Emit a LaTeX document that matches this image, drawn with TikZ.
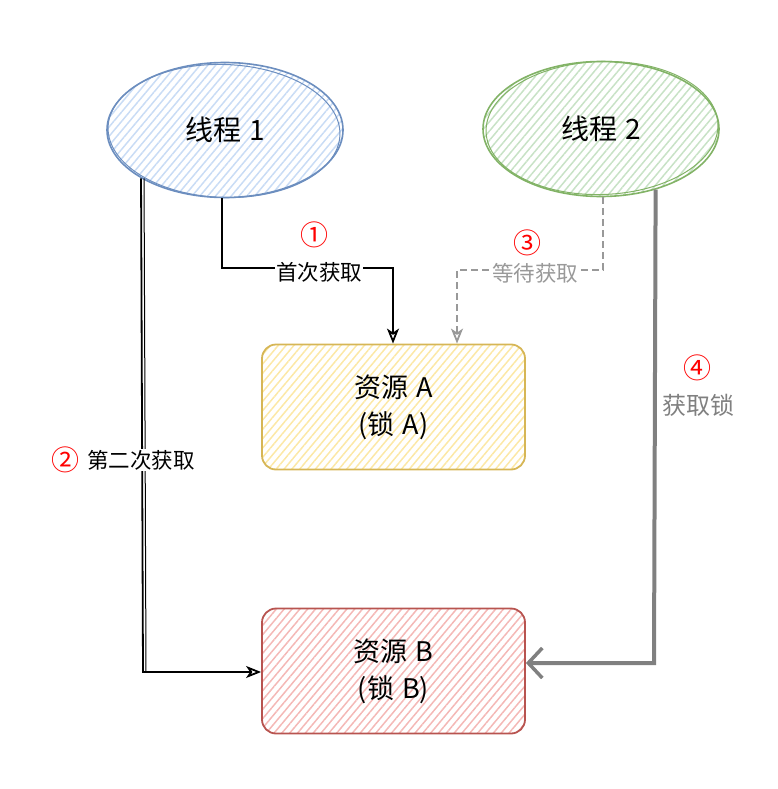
\documentclass[tikz,border=0pt]{standalone}
\usepackage{fontspec}
\setmainfont{Noto Sans CJK SC}
\usetikzlibrary{shapes.geometric,arrows.meta,patterns.meta}
\definecolor{bluestroke}{HTML}{6C8EBF}
\definecolor{bluehatch}{HTML}{C9DCF5}
\definecolor{greenstroke}{HTML}{82B366}
\definecolor{greenhatch}{HTML}{C8E2C6}
\definecolor{yellowstroke}{HTML}{D6B656}
\definecolor{yellowhatch}{HTML}{FCE8A6}
\definecolor{redstroke}{HTML}{B85450}
\definecolor{redhatch}{HTML}{F4B8B6}
\definecolor{numred}{HTML}{FF0000}
\definecolor{lightgray}{HTML}{999999}
\definecolor{midgray}{HTML}{808080}
\tikzset{
  hatch/.style={pattern={Lines[angle=50,distance=6pt,line width=1.5pt]},pattern color=#1},
  thread/.style={ellipse,minimum width=236pt,minimum height=135pt,inner sep=0pt,line width=1.6pt,font=\fontsize{28}{32}\selectfont},
  rough/.style={ellipse,minimum width=#1,minimum height=133pt,inner sep=0pt,line width=1pt},
  res/.style={rectangle,rounded corners=14pt,minimum width=263pt,minimum height=125pt,inner sep=0pt,line width=1.8pt,align=center,font=\fontsize{27}{37}\selectfont},
  elabel/.style={fill=white,inner sep=1pt,font=\fontsize{21.5}{24}\selectfont},
  num/.style={text=numred,inner sep=0pt,font=\fontsize{28}{30}\selectfont},
  conn/.style={line width=1.8pt,-{Stealth[open,length=15pt,width=12pt,inset=4pt]}},
}
\begin{document}
\begin{tikzpicture}[x=1pt,y=-1pt]
\useasboundingbox (0,0) rectangle (778,789);
\node[thread,draw=bluestroke,hatch=bluehatch] (t1) at (225,130) {线程\hspace{0.3em}1};
\node[rough=232pt,draw=bluestroke,rotate=-2] (t1r) at (224,131) {};
\node[thread,draw=greenstroke,hatch=greenhatch] (t2) at (601,129) {线程\hspace{0.3em}2};
\node[rough=232pt,draw=greenstroke,rotate=2] (t2r) at (602,128) {};
\node[res,draw=yellowstroke,hatch=yellowhatch] (ra) at (393.5,407) {资源\hspace{0.3em}A\\(锁\hspace{0.3em}A)};
\node[res,draw=redstroke,hatch=redhatch] (rb) at (393.5,671) {资源\hspace{0.3em}B\\(锁\hspace{0.3em}B)};
% connector 1
\coordinate (c1a) at (222,268);
\coordinate (c1b) at (393,268);
\draw[conn] ([xshift=-3pt]t1.south) -- (c1a) -- (c1b) -- (ra.north -| c1b);
\node[elabel] (l1) at (319,272) {首次获取};
\node[num] (n1) at (314,235) {①};
% connector 2
\coordinate (c2a) at (143,672);
\draw[conn] (t1.south west) -- (c2a) -- (rb.west |- c2a);
\draw[line width=1pt] ([xshift=3pt]t1.south west) -- ([xshift=3pt]c2a);
\node[elabel,anchor=west] (l2) at (86,460) {第二次获取};
\node[num] (n2) at (65,460) {②};
% connector 3
\coordinate (c3a) at (603,270);
\coordinate (c3b) at (457,270);
\draw[conn,draw=lightgray,dashed,dash pattern=on 7pt off 4pt] ([xshift=2pt]t2.south) -- (c3a) -- (c3b) -- (ra.north -| c3b);
\node[elabel,text=lightgray] (l3) at (535,273) {等待获取};
\node[num] (n3) at (527,243) {③};
% connector 4
\coordinate (c4a) at (654,663);
\draw[draw=midgray,line width=4pt,-{Straight Barb[length=14pt,width=30pt,line width=3.5pt]}] (t2.-48.5) -- (c4a) -- (rb.east |- c4a);
\node[num] (n4) at (697,368) {④};
\node[text=midgray,inner sep=0pt,font=\fontsize{24}{28}\selectfont] (l4) at (698,405) {获取锁};
\end{tikzpicture}
\end{document}
